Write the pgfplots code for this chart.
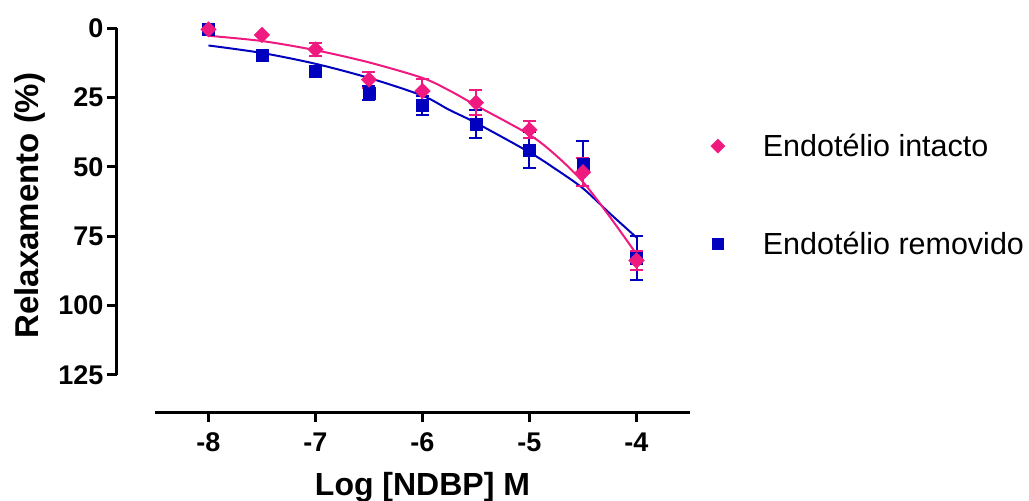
\documentclass[border=0pt]{standalone}
\usepackage{fontspec}
\setmainfont{Liberation Sans}
\usepackage{pgfplots}
\pgfplotsset{compat=1.18}
\definecolor{pinkc}{RGB}{240,25,128}
\definecolor{bluec}{RGB}{0,0,190}
\begin{document}
\begin{tikzpicture}
\path[use as bounding box] (0,0) rectangle (1029pt,501pt);
\begin{axis}[
  at={(117pt,473pt)}, anchor=north west,
  scale only axis, width=573pt, height=384pt,
  xmin=-8.855, xmax=-3.5, ymin=0, ymax=138.4, y dir=reverse,
  clip=false,
  axis x line*=bottom, axis y line*=left,
  axis line style={draw=none},
  xtick={-8,-7,-6,-5,-4}, xticklabels={-8,-7,-6,-5,-4},
  ytick={0,25,50,75,100,125}, yticklabels={0,25,50,75,100,125},
  minor tick num=0,
  tick align=outside, major tick length=10pt,
  every tick/.style={black, line width=3pt},
  ticklabel style={font=\fontsize{27}{27}\selectfont\bfseries},
  xticklabel style={yshift=-7pt},
  every axis x label/.style={at={(axis cs:-6,138.4)}, anchor=base, yshift=-83pt, font=\fontsize{32}{32}\selectfont\bfseries},
  every axis y label/.style={at={(axis cs:-8.855,64)}, xshift=-87pt, rotate=90, anchor=center, font=\fontsize{33}{33}\selectfont\bfseries},
  xlabel={Log [NDBP] M},
  ylabel={Relaxamento (\%)},
  legend style={draw=none, fill=none, at={(1.036,0.565)}, anchor=west, inner sep=0pt, row sep=70pt,
    font=\fontsize{30.5}{30.5}\selectfont, nodes={inner sep=2pt}},
  legend cell align=left,
  legend image code/.code={\path[draw=none,fill=none] (-7pt,0pt) -- (43pt,0pt); \draw[#1] plot coordinates {(0pt,0pt)};},
]
\draw[line width=3pt] (axis cs:-8.5,138.4) -- (axis cs:-3.5,138.4);
\draw[line width=3pt] (axis cs:-8.855,0) -- (axis cs:-8.855,125);

% fitted curves
\addplot[bluec, line width=2pt, smooth, forget plot] coordinates {
 (-8,6.3) (-7.5,9.0) (-7,12.9) (-6.5,18.0) (-6,24.4) (-5.75,29.5) (-5.5,34.2)
 (-5,44.8) (-4.75,51) (-4.5,57.8) (-4.25,66.8) (-4,75.5)};
\addplot[pinkc, line width=2pt, smooth, forget plot] coordinates {
 (-8,2.8) (-7.5,4.7) (-7,8.0) (-6.5,12.4) (-6,18.0) (-5.75,22.5) (-5.5,27.9)
 (-5,38.5) (-4.75,46) (-4.5,55.5) (-4.25,68) (-4,81.5)};

% Endotelio removido
\addplot[only marks, mark=square*, mark size=6pt, bluec, forget plot] coordinates {
 (-8,0.5) (-7.5,9.8) (-7,15.6)};
\addplot[only marks, mark=square*, mark size=6pt, bluec, forget plot,
  error bars/.cd, y dir=both, y explicit,
  error bar style={line width=2pt, bluec},
  error mark options={rotate=90, mark size=6.5pt, line width=2pt, bluec}] coordinates {
 (-6.5,23.4) +- (0,2.4)
 (-6,27.9) +- (0,3.4)
 (-5.5,34.5) +- (0,5)
 (-5,44) +- (0,6.6)
 (-4.5,49) +- (0,8.1)
 (-4,82.8) +- (0,8)};

% Endotelio intacto
\addplot[only marks, mark=square*, mark size=5.5pt, mark options={rotate=45}, pinkc, forget plot] coordinates {
 (-8,0.5) (-7.5,2.5)};
\addplot[only marks, mark=square*, mark size=5.5pt, mark options={rotate=45}, pinkc, forget plot,
  error bars/.cd, y dir=both, y explicit,
  error bar style={line width=2pt, pinkc},
  error mark options={rotate=90, mark size=6.5pt, line width=2pt, pinkc}] coordinates {
 (-7,7.7) +- (0,2.3)
 (-6.5,18.6) +- (0,2.9)
 (-6,22.7) +- (0,4.2)
 (-5.5,26.9) +- (0,4.6)
 (-5,36.7) +- (0,3.1)
 (-4.5,52) +- (0,5)
 (-4,83.8) +- (0,3.3)};

\addlegendimage{only marks, mark=square*, mark size=5pt, mark options={rotate=45}, pinkc}
\addlegendentry{Endotélio intacto}
\addlegendimage{only marks, mark=square*, mark size=5.5pt, bluec}
\addlegendentry{Endotélio removido}
\end{axis}
\end{tikzpicture}
\end{document}
